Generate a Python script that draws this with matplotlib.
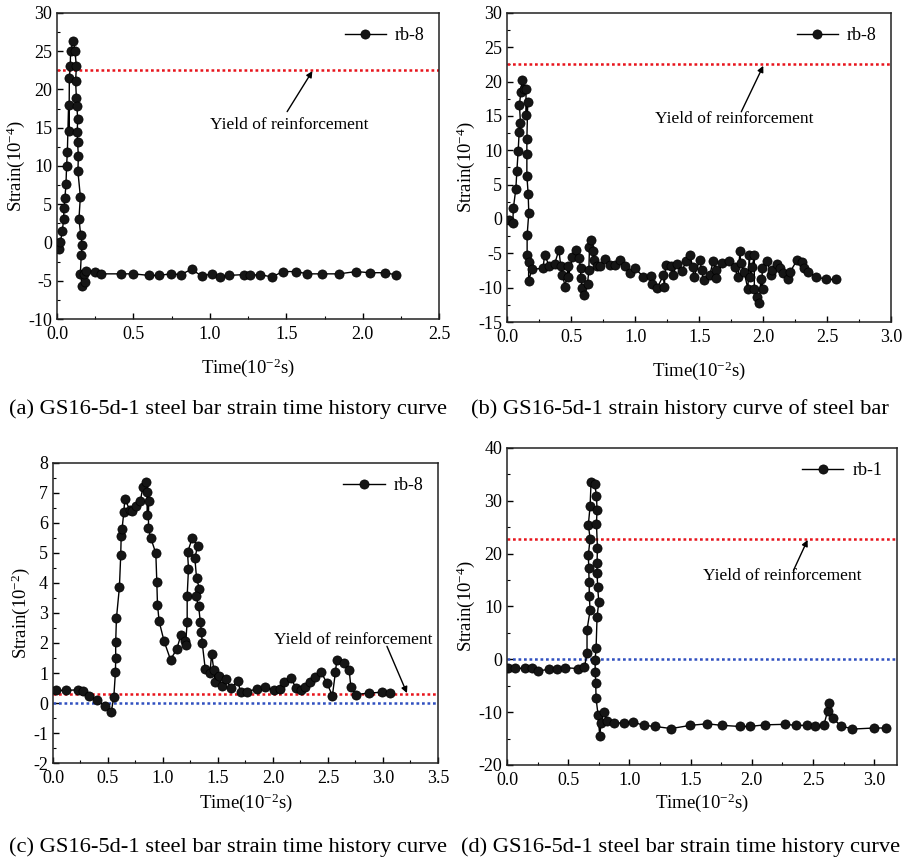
import matplotlib
matplotlib.use("Agg")
import matplotlib.pyplot as plt
from matplotlib.ticker import MultipleLocator, FormatStrFormatter

plt.rcParams["font.family"] = "Liberation Serif"
plt.rcParams["mathtext.fontset"] = "custom"
plt.rcParams["mathtext.rm"] = "Liberation Serif"
plt.rcParams["mathtext.default"] = "regular"
plt.rcParams["axes.unicode_minus"] = False

# (a) rb-8
t_a = [0.011, 0.022, 0.035, 0.044, 0.046, 0.052, 0.059, 0.063, 0.068, 0.076,
       0.079, 0.081, 0.087, 0.089, 0.107, 0.118, 0.127, 0.122, 0.127, 0.131,
       0.135, 0.133, 0.135, 0.140, 0.137, 0.153, 0.144, 0.155, 0.166, 0.159,
       0.153, 0.166, 0.181, 0.175, 0.192, 0.25, 0.29, 0.42, 0.50, 0.60,
       0.665, 0.746, 0.81, 0.88, 0.947, 1.012, 1.067, 1.126, 1.22, 1.265,
       1.326, 1.405, 1.479, 1.562, 1.638, 1.732, 1.843, 1.957, 2.044, 2.147,
       2.219]
s_a = [-0.9, 0.0, 1.5, 3.1, 4.5, 5.8, 7.6, 10.0, 11.8, 18.0,
       14.6, 21.5, 23.0, 25.0, 26.3, 25.0, 23.0, 21.1, 18.9, 17.8,
       16.1, 14.5, 13.1, 11.3, 9.3, 6.0, 3.1, 1.0, -0.3, -1.6,
       -4.1, -5.7, -5.2, -4.1, -3.7, -3.8, -4.1, -4.1, -4.1, -4.3,
       -4.3, -4.1, -4.2, -3.5, -4.4, -4.1, -4.5, -4.3, -4.2, -4.3,
       -4.2, -4.5, -3.8, -3.8, -4.1, -4.1, -4.1, -3.8, -3.95, -3.95,
       -4.25]

# (b) rb-8
t_b = [0.013, 0.044, 0.049, 0.068, 0.076, 0.086, 0.094, 0.104, 0.096, 0.107,
       0.115, 0.133, 0.148, 0.146, 0.161, 0.154, 0.154, 0.154, 0.164, 0.169,
       0.156, 0.156, 0.169, 0.167, 0.195, 0.281, 0.292, 0.328, 0.37, 0.404,
       0.419, 0.432, 0.453, 0.477, 0.479, 0.51, 0.536, 0.5625, 0.573, 0.576,
       0.586, 0.599, 0.628, 0.638, 0.643, 0.654, 0.667, 0.68, 0.698, 0.724,
       0.766, 0.807, 0.84, 0.88, 0.917, 0.956, 1.0, 1.0625, 1.12, 1.13,
       1.17, 1.22, 1.227, 1.237, 1.276, 1.297, 1.323, 1.365, 1.398, 1.427,
       1.45, 1.458, 1.505, 1.518, 1.534, 1.583, 1.609, 1.63, 1.633, 1.68,
       1.734, 1.776, 1.802, 1.818, 1.823, 1.85, 1.88, 1.89, 1.9, 1.914,
       1.93, 1.93, 1.953, 1.97, 1.98, 1.995, 1.99, 2.03, 2.06, 2.07,
       2.109, 2.13, 2.156, 2.19, 2.21, 2.266, 2.30, 2.318, 2.349, 2.414,
       2.49, 2.565]
s_b = [-0.2, -0.6, 1.65, 4.4, 7.0, 9.9, 12.7, 14.0, 16.6, 18.5,
       20.2, 18.9, 18.9, 15.1, 17.0, 11.6, 9.5, 6.3, 3.7, 0.9,
       -2.4, -5.3, -6.3, -9.0, -7.3, -7.2, -5.2, -6.8, -6.6, -4.5,
       -6.9, -8.1, -9.9, -6.8, -8.4, -5.6, -4.5, -5.7, -7.2, -8.6,
       -10.1, -11.0, -9.4, -7.4, -4.1, -3.1, -4.7, -6.0, -6.8, -6.8,
       -5.8, -6.75, -6.75, -6.0, -6.8, -7.9, -7.2, -8.4, -8.35, -9.5,
       -10.1, -8.2, -9.9, -6.7, -6.8, -8.1, -6.6, -7.6, -6.1, -5.3,
       -7.0, -8.45, -5.9, -7.4, -8.9, -8.1, -6.1, -7.4, -8.6, -6.4,
       -6.1, -7.0, -8.5, -4.7, -6.4, -7.7, -10.2, -5.3, -8.4, -7.0,
       -5.2, -10.2, -11.3, -12.2, -8.8, -10.2, -7.1, -6.1, -8.1, -7.4,
       -6.5, -7.2, -7.8, -8.8, -7.7, -5.9, -6.2, -7.1, -7.7, -8.4,
       -8.8, -8.8]

# (c) rb-8
t_c = [0.024, 0.12, 0.228, 0.273, 0.325, 0.404, 0.47, 0.53, 0.553, 0.568,
       0.57, 0.57, 0.577, 0.604, 0.616, 0.62, 0.628, 0.644, 0.653, 0.698,
       0.72, 0.756, 0.795, 0.817, 0.85, 0.856, 0.856, 0.87, 0.868, 0.89,
       0.935, 0.944, 0.95, 0.965, 1.01, 1.069, 1.126, 1.163, 1.2, 1.205,
       1.22, 1.22, 1.232, 1.223, 1.266, 1.315, 1.29, 1.305, 1.33, 1.3,
       1.324, 1.34, 1.35, 1.357, 1.384, 1.427, 1.442, 1.463, 1.475, 1.512,
       1.536, 1.573, 1.618, 1.679, 1.706, 1.767, 1.852, 1.925, 2.01, 2.064,
       2.104, 2.167, 2.207, 2.256, 2.289, 2.34, 2.386, 2.435, 2.49, 2.54,
       2.568, 2.58, 2.647, 2.693, 2.708, 2.753, 2.869, 2.99, 3.066]
s_c = [0.42, 0.42, 0.44, 0.40, 0.22, 0.11, -0.11, -0.29, 0.20, 1.04,
       1.49, 2.02, 2.83, 3.86, 4.94, 5.56, 5.80, 6.36, 6.80, 6.44,
       6.39, 6.56, 6.74, 7.20, 7.36, 7.02, 6.28, 6.73, 5.82, 5.49,
       4.99, 4.03, 3.28, 2.72, 2.06, 1.44, 1.81, 2.26, 2.06, 1.94,
       2.70, 3.58, 4.48, 5.02, 5.49, 5.24, 4.82, 4.17, 3.81, 3.56,
       3.22, 2.69, 2.36, 1.99, 1.14, 1.00, 1.63, 1.09, 0.70, 0.89,
       0.58, 0.80, 0.49, 0.74, 0.37, 0.38, 0.47, 0.53, 0.42, 0.47,
       0.69, 0.82, 0.50, 0.44, 0.53, 0.71, 0.88, 1.04, 0.67, 0.24,
       1.04, 1.44, 1.33, 1.09, 0.53, 0.28, 0.33, 0.36, 0.33]

# (d) rb-1
t_d = [0.005, 0.068, 0.15, 0.204, 0.25, 0.34, 0.408, 0.476, 0.58, 0.632,
       0.653, 0.653, 0.678, 0.672, 0.67, 0.667, 0.664, 0.678, 0.664, 0.678,
       0.686, 0.716, 0.73, 0.735, 0.73, 0.738, 0.735, 0.735, 0.74, 0.749,
       0.735, 0.727, 0.719, 0.72, 0.724, 0.727, 0.743, 0.757, 0.768, 0.792,
       0.817, 0.874, 0.958, 1.029, 1.12, 1.206, 1.342, 1.497, 1.634, 1.756,
       1.9, 1.987, 2.105, 2.273, 2.36, 2.45, 2.513, 2.589, 2.62, 2.634,
       2.66, 2.728, 2.823, 3.0, 3.096]
s_d = [-1.7, -1.7, -1.7, -1.7, -2.2, -1.9, -1.9, -1.6, -1.74, -1.5,
       1.16, 5.6, 9.25, 11.9, 14.7, 17.2, 19.8, 22.8, 25.5, 29.0,
       33.5, 33.1, 31.0, 28.2, 25.7, 21.1, 18.3, 16.3, 13.7, 10.8,
       8.0, 2.1, -0.1, -2.4, -4.5, -7.4, -10.5, -14.5, -12.0, -9.9,
       -11.7, -12.1, -12.0, -11.9, -12.5, -12.7, -13.1, -12.5, -12.2, -12.5,
       -12.7, -12.7, -12.4, -12.3, -12.5, -12.5, -12.7, -12.4, -9.8, -8.3,
       -11.1, -12.6, -13.2, -13.0, -13.0]

yield_a, yield_b, yield_c, yield_d = 22.6, 22.5, 0.31, 22.8

captions = ["(a) GS16-5d-1 steel bar strain time history curve",
            "(b) GS16-5d-1 strain history curve of steel bar",
            "(c) GS16-5d-1 steel bar strain time history curve",
            "(d) GS16-5d-1 steel bar strain time history curve"]

fig = plt.figure(figsize=(9.04, 8.61), dpi=100)
ax_a = fig.add_axes([0.063, 0.6295, 0.423, 0.3555])
ax_b = fig.add_axes([0.561, 0.626, 0.425, 0.359])
ax_c = fig.add_axes([0.0586, 0.1138, 0.4259, 0.3485])
ax_d = fig.add_axes([0.561, 0.1115, 0.431, 0.3682])


def draw_panel(ax, t, s, label, xlim, ylim, xmaj, ymaj, ymin, unit, xpad):
    ax.plot(t, s, "-o", color="black", markersize=6.6, linewidth=1.0,
            markeredgewidth=0.5, markerfacecolor="#151515", label=label, zorder=3)
    ax.set_xlim(*xlim)
    ax.set_ylim(*ylim)
    ax.xaxis.set_major_locator(MultipleLocator(xmaj))
    ax.xaxis.set_minor_locator(MultipleLocator(xmaj / 2))
    ax.yaxis.set_major_locator(MultipleLocator(ymaj))
    ax.yaxis.set_minor_locator(MultipleLocator(ymin))
    ax.xaxis.set_major_formatter(FormatStrFormatter("%.1f"))
    ax.tick_params(which="both", direction="in", labelsize=13,
                   top=False, right=False)
    ax.tick_params(which="major", length=4.5, width=1)
    ax.tick_params(which="minor", length=2.5, width=0.8)
    ax.tick_params(axis="x", pad=5)
    for sp in ax.spines.values():
        sp.set_linewidth(1.1)
        sp.set_color("#222222")
    ax.set_xlabel("Time(10$^{-2}$s)", fontsize=13.5, labelpad=xpad)
    ax.set_ylabel("Strain(10$^{%s}$)" % unit, fontsize=13.5, labelpad=1)
    ax.legend(loc="upper right", frameon=False, fontsize=13,
              handlelength=2.3, handletextpad=0.5, borderaxespad=0.4)


def yield_note(ax, text_xy, tail, head):
    ax.text(text_xy[0], text_xy[1], "Yield of reinforcement", fontsize=12.5,
            ha="center", va="center")
    ax.annotate("", xy=head, xytext=tail,
                arrowprops=dict(arrowstyle="-|>", color="black", lw=1.0,
                                mutation_scale=9, shrinkA=0, shrinkB=0))


red = "#e8141c"
blue = "#3050c0"
dots = (0, (1.1, 1.1))

draw_panel(ax_a, t_a, s_a, "rb-8", (0, 2.5), (-10, 30), 0.5, 5, 2.5, "-4", 10)
ax_a.axhline(yield_a, color=red, linestyle=dots, lw=1.8, zorder=2)
yield_note(ax_a, (1.52, 15.3), (1.505, 17.1), (1.67, 22.4))

draw_panel(ax_b, t_b, s_b, "rb-8", (0, 3.0), (-15, 30), 0.5, 5, 2.5, "-4", 10)
ax_b.axhline(yield_b, color=red, linestyle=dots, lw=1.8, zorder=2)
yield_note(ax_b, (1.776, 14.6), (1.828, 15.6), (2.0, 22.3))

draw_panel(ax_c, t_c, s_c, "rb-8", (0, 3.5), (-2, 8), 0.5, 1, 0.5, "-2", 3)
ax_c.axhline(yield_c, color=red, linestyle=dots, lw=1.8, zorder=2)
ax_c.axhline(0, color=blue, linestyle=dots, lw=1.8, zorder=2)
yield_note(ax_c, (2.726, 2.11), (3.036, 1.89), (3.218, 0.33))

draw_panel(ax_d, t_d, s_d, "rb-1", (0, 3.185), (-20, 40), 0.5, 10, 5, "-4", 2)
ax_d.axhline(yield_d, color=red, linestyle=dots, lw=1.8, zorder=2)
ax_d.axhline(0, color=blue, linestyle=dots, lw=1.8, zorder=2)
yield_note(ax_d, (2.25, 15.7), (2.34, 16.8), (2.456, 22.6))

fig.text(0.2525, 0.525, captions[0], fontsize=16.2, ha="center", va="center")
fig.text(0.7525, 0.525, captions[1], fontsize=16.2, ha="center", va="center")
fig.text(0.2525, 0.0163, captions[2], fontsize=16.2, ha="center", va="center")
fig.text(0.7525, 0.0163, captions[3], fontsize=16.2, ha="center", va="center")

fig.savefig("out.png", dpi=100)
